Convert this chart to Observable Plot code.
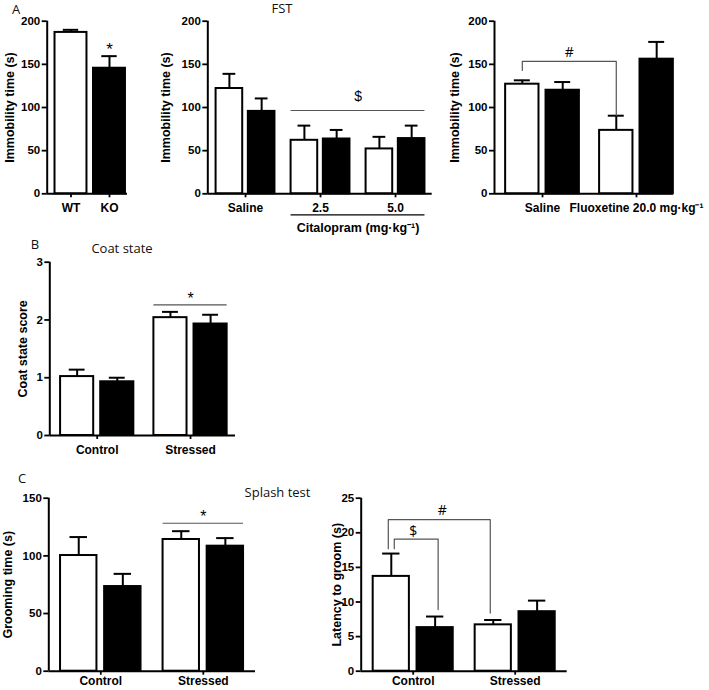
<!DOCTYPE html>
<html><head><meta charset="utf-8">
<script src="https://cdn.jsdelivr.net/npm/d3@7"></script>
<script src="https://cdn.jsdelivr.net/npm/@observablehq/plot@0.6"></script>
<style>
body{margin:0;background:#fff;}
#fig{position:relative;width:709px;height:690px;overflow:hidden;background:#fff;}
.panel{position:absolute;}
.lab{position:absolute;font-family:"Open Sans","Noto Sans",sans-serif;font-size:13px;color:#111;white-space:nowrap;line-height:1;transform:translate(-50%,-50%);}
</style></head><body><div id="fig"></div>
<script>
// ---------- data ----------
const genotypes = ["WT", "KO"];
// A (left): FST immobility, WT vs KO
const a1Groups = ["WT", "KO"];
const a1Mean = [187, 145.5];
const a1Sem = [3, 14];
// A (middle): FST with citalopram
const a2Groups = ["Saline", "2.5", "5.0"];
const a2WtMean = [122, 62, 52];
const a2WtSem = [17, 17, 14];
const a2KoMean = [95.5, 63.5, 64];
const a2KoSem = [15, 10.5, 15];
// A (right): FST with fluoxetine
const a3Groups = ["Saline", "Fluoxetine 20.0 mg·kg⁻¹"];
const a3WtMean = [127, 73.5];
const a3WtSem = [4.5, 17];
const a3KoMean = [120, 156];
const a3KoSem = [9.5, 20];
// B: coat state
const bGroups = ["Control", "Stressed"];
const bWtMean = [1.02, 2.04];
const bWtSem = [0.12, 0.1];
const bKoMean = [0.93, 1.93];
const bKoSem = [0.07, 0.16];
// C (left): grooming time
const c1Groups = ["Control", "Stressed"];
const c1WtMean = [100.3, 114.2];
const c1WtSem = [16, 7.2];
const c1KoMean = [73.4, 108.4];
const c1KoSem = [11, 7];
// C (right): latency to groom
const c2Groups = ["Control", "Stressed"];
const c2WtMean = [13.7, 6.7];
const c2WtSem = [3.3, 0.7];
const c2KoMean = [6.3, 8.6];
const c2KoSem = [1.6, 1.6];
// tick values
const aTicks = [0, 50, 100, 150, 200];
const bTicks = [0, 1, 2, 3];
const c1Ticks = [0, 50, 100, 150];
const c2Ticks = [0, 5, 10, 15, 20, 25];
// titles
const yTitles = {a: "Immobility time (s)", b: "Coat state score", c1: "Grooming time (s)", c2: "Latency to groom (s)"};
const citalopramLabel = "Citalopram (mg·kg⁻¹)";
// significance annotations (values in data units)
const a2Sig = [{from: 1, to: 2, y: 96.5, label: "$"}];
const a3Sig = [{from: 0, to: 1, y0: 143, y: 153.5, y1: 90.7, label: "#"}];
const bSig = [{from: 1, to: 1, y: 2.26, label: "*"}];
const c1Sig = [{from: 1, to: 1, y: 128.3, label: "*"}];
const c2SigHash = [{from: 0, fromGeno: "WT", to: 1, toGeno: "WT", y0: 17.7, y: 21.9, y1: 8.4, label: "#"}];
const c2SigDollar = [{from: 0, fromGeno: "WT", to: 0, toGeno: "KO", y0: 17.7, y: 19.1, y1: 8.9, label: "$"}];

// ---------- helpers ----------
const FONT = '"Liberation Sans", Arial, Helvetica, sans-serif';
const OFF = 0.215, BW = 0.355, CAP = 0.085;
const SIG = "#555";

function paired(groups, wm, ws, km, ks) {
  return groups.flatMap((g, i) => [
    {g, i, geno: genotypes[0], mean: wm[i], sem: ws[i]},
    {g, i, geno: genotypes[1], mean: km[i], sem: ks[i]}
  ]);
}
const pairPos = d => d.i + (d.geno === "WT" ? -OFF : OFF);
const gp = (i, geno) => i + (geno === "WT" ? -OFF : OFF);

function panel(cfg) {
  const {groups, data, pos, bw, cap, xDomain, yDomain, yTicks, box, frame, title, titleDx, xPad = 6, extra = []} = cfg;
  const plot = Plot.plot({
    width: box.width, height: box.height,
    marginLeft: frame.x0 - box.left, marginRight: box.left + box.width - frame.x1,
    marginTop: frame.yTop - box.top, marginBottom: box.top + box.height - frame.yBottom,
    style: {background: "none", overflow: "visible", fontFamily: FONT, color: "#000"},
    x: {type: "linear", domain: xDomain},
    y: {type: "linear", domain: yDomain},
    marks: [
      Plot.rect(data.filter(d => d.geno === "WT"), {x1: d => pos(d) - bw / 2, x2: d => pos(d) + bw / 2, y1: 0, y2: "mean", fill: "white", stroke: "black", strokeWidth: 2}),
      Plot.rect(data.filter(d => d.geno === "KO"), {x1: d => pos(d) - bw / 2, x2: d => pos(d) + bw / 2, y1: 0, y2: "mean", fill: "black", stroke: "black", strokeWidth: 2}),
      Plot.ruleX(data, {x: pos, y1: "mean", y2: d => d.mean + d.sem, stroke: "black", strokeWidth: 2}),
      Plot.ruleY(data, {x1: d => pos(d) - cap, x2: d => pos(d) + cap, y: d => d.mean + d.sem, stroke: "black", strokeWidth: 2}),
      Plot.ruleX([xDomain[0]], {stroke: "black", strokeWidth: 2}),
      Plot.ruleY([yDomain[0]], {stroke: "black", strokeWidth: 2}),
      Plot.axisY({ticks: yTicks, tickFormat: d => String(d), tickSize: 5, tickPadding: 2, fontSize: 11.5, fontWeight: "bold", strokeWidth: 1.8, label: null}),
      Plot.axisX({ticks: groups.map((g, i) => i), tickFormat: i => groups[i], tickSize: 4, tickPadding: xPad, fontSize: 12, fontWeight: "bold", strokeWidth: 1.8, label: null}),
      Plot.text([title], {frameAnchor: "left", textAnchor: "middle", rotate: -90, dx: titleDx, fontSize: 12.5, fontWeight: "bold"}),
      ...extra
    ]
  });
  const wrap = document.createElement("div");
  wrap.className = "panel";
  wrap.style.left = box.left + "px";
  wrap.style.top = box.top + "px";
  wrap.appendChild(plot);
  document.getElementById("fig").appendChild(wrap);
}

function label(text, cx, cy, size) {
  const el = document.createElement("div");
  el.className = "lab";
  el.textContent = text;
  el.style.left = cx + "px";
  el.style.top = cy + "px";
  if (size) el.style.fontSize = size + "px";
  document.getElementById("fig").appendChild(el);
}

// span line over a group range (from WT of first group to KO of last group)
function spanMarks(sig, dy, fontSize) {
  return [
    Plot.ruleY(sig, {x1: d => gp(d.from, "WT") - BW / 2, x2: d => gp(d.to, "KO") + BW / 2, y: "y", stroke: SIG, strokeWidth: 1.2}),
    Plot.text(sig, {x: d => (gp(d.from, "WT") + gp(d.to, "KO")) / 2, y: "y", text: "label", dy, fontSize, fontFamily: FONT})
  ];
}
function bracketMarks(sig, fromGeno, toGeno, dx, dy) {
  const pts = sig.flatMap(d => {
    const xa = gp(d.from, d.fromGeno || fromGeno), xb = gp(d.to, d.toGeno || toGeno);
    return [{x: xa, y: d.y0}, {x: xa, y: d.y}, {x: xb, y: d.y}, {x: xb, y: d.y1}];
  });
  return [
    Plot.line(pts, {x: "x", y: "y", stroke: SIG, strokeWidth: 1.2, dx}),
    Plot.text(sig, {x: d => (gp(d.from, d.fromGeno || fromGeno) + gp(d.to, d.toGeno || toGeno)) / 2, y: "y", text: "label", dy, fontSize: 14, fontFamily: "'Open Sans', sans-serif"})
  ];
}

// ---------- A left ----------
const a1Data = a1Groups.map((g, i) => ({g, i, geno: genotypes[i], mean: a1Mean[i], sem: a1Sem[i]}));
panel({
  groups: a1Groups, data: a1Data, pos: d => d.i, bw: 0.83, cap: 0.2,
  xDomain: [-0.618, 1.468], yDomain: [0, 200], yTicks: aTicks,
  box: {left: 0, top: 0, width: 135, height: 220},
  frame: {x0: 46.7, x1: 127, yTop: 20.7, yBottom: 193.3},
  title: yTitles.a, titleDx: -37,
  extra: [Plot.text(a1Data.filter(d => d.geno === "KO"), {x: d => d.i, y: d => d.mean + d.sem, text: () => "*", dy: -7, fontSize: 17, fontFamily: FONT})]
});

// ---------- A middle ----------
const a2Data = paired(a2Groups, a2WtMean, a2WtSem, a2KoMean, a2KoSem);
const citSpan = [{from: 1, to: 2, label: citalopramLabel}];
panel({
  groups: a2Groups, data: a2Data, pos: pairPos, bw: BW, cap: CAP,
  xDomain: [-0.503, 2.489], yDomain: [0, 200], yTicks: aTicks,
  box: {left: 140, top: 0, width: 300, height: 240},
  frame: {x0: 207.3, x1: 431.7, yTop: 20.7, yBottom: 193.3},
  title: yTitles.a, titleDx: -42,
  extra: [
    ...spanMarks(a2Sig, -14, 14),
    Plot.ruleY(citSpan, {x1: d => gp(d.from, "WT") - BW / 2, x2: d => gp(d.to, "KO") + BW / 2, y: () => 0, dy: 21, stroke: "black", strokeWidth: 1.2}),
    Plot.text(citSpan, {x: d => (gp(d.from, "WT") + gp(d.to, "KO")) / 2, y: () => 0, dy: 34, text: "label", fontSize: 12.5, fontWeight: "bold"})
  ]
});

// ---------- A right ----------
const a3Data = paired(a3Groups, a3WtMean, a3WtSem, a3KoMean, a3KoSem);
panel({
  groups: a3Groups, data: a3Data, pos: pairPos, bw: BW, cap: CAP,
  xDomain: [-0.511, 1.394], yDomain: [0, 200], yTicks: aTicks,
  box: {left: 445, top: 0, width: 264, height: 220},
  frame: {x0: 494, x1: 673, yTop: 20.7, yBottom: 193.3},
  title: yTitles.a, titleDx: -40,
  extra: bracketMarks(a3Sig, "WT", "WT", 0, -9)
});

// ---------- B ----------
const bData = paired(bGroups, bWtMean, bWtSem, bKoMean, bKoSem);
panel({
  groups: bGroups, data: bData, pos: pairPos, bw: BW, cap: CAP,
  xDomain: [-0.508, 1.482], yDomain: [0, 3], yTicks: bTicks,
  box: {left: 0, top: 245, width: 250, height: 215},
  frame: {x0: 49.3, x1: 235, yTop: 261.7, yBottom: 435},
  title: yTitles.b, titleDx: -27,
  extra: spanMarks(bSig, -6, 16)
});

// ---------- C left ----------
const c1Data = paired(c1Groups, c1WtMean, c1WtSem, c1KoMean, c1KoSem);
panel({
  groups: c1Groups, data: c1Data, pos: pairPos, bw: BW, cap: CAP,
  xDomain: [-0.507, 1.509], yDomain: [0, 150], yTicks: c1Ticks,
  box: {left: 0, top: 480, width: 270, height: 210},
  frame: {x0: 48.3, x1: 255, yTop: 497.7, yBottom: 670.7},
  title: yTitles.c1, titleDx: -41, xPad: 1,
  extra: spanMarks(c1Sig, -6, 16)
});

// ---------- C right ----------
const c2Data = paired(c2Groups, c2WtMean, c2WtSem, c2KoMean, c2KoSem);
panel({
  groups: c2Groups, data: c2Data, pos: pairPos, bw: BW, cap: CAP,
  xDomain: [-0.51, 1.51], yDomain: [0, 25], yTicks: c2Ticks,
  box: {left: 320, top: 480, width: 260, height: 210},
  frame: {x0: 360.7, x1: 566.7, yTop: 497.7, yBottom: 670.7},
  title: yTitles.c2, titleDx: -24, xPad: 1,
  extra: [...bracketMarks(c2SigHash, "WT", "WT", -3, -9), ...bracketMarks(c2SigDollar, "WT", "KO", 3, -8)]
});

// ---------- panel labels ----------
label("A", 16, 9);
label("FST", 282, 8);
label("B", 35, 244);
label("Coat state", 122, 248);
label("C", 22, 477.5);
label("Splash test", 277.5, 492);
</script>
</body></html>
